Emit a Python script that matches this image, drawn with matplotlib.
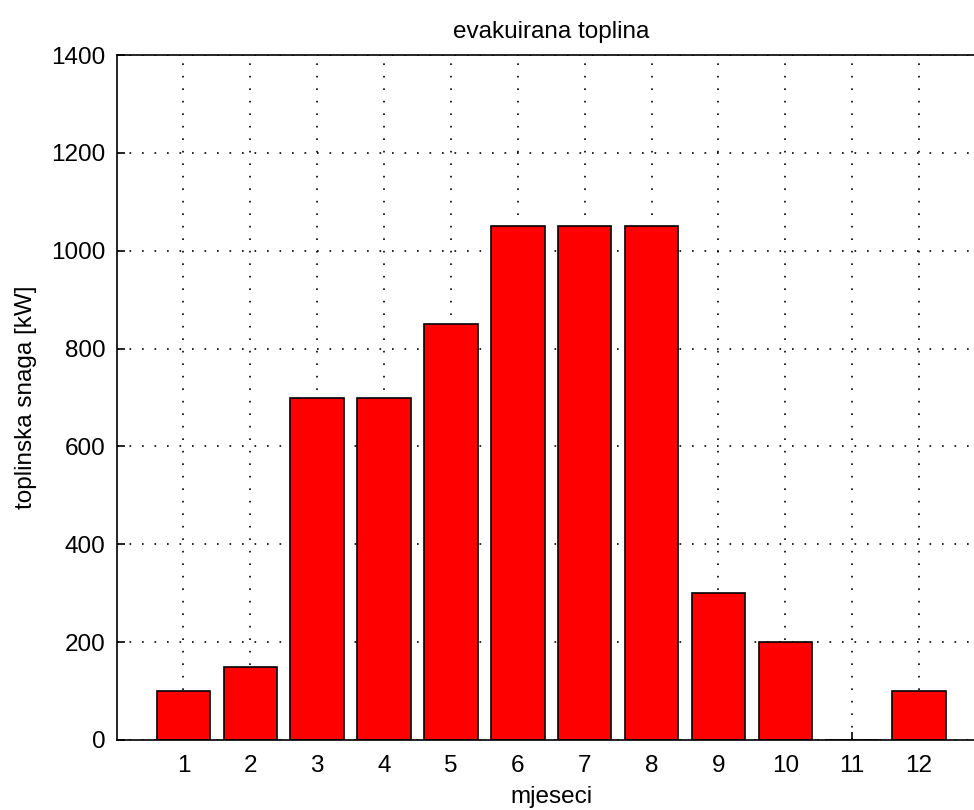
import matplotlib
matplotlib.use("Agg")
import matplotlib.pyplot as plt

months = [1, 2, 3, 4, 5, 6, 7, 8, 9, 10, 11, 12]
heat_kw = [100, 150, 700, 700, 850, 1050, 1050, 1050, 300, 200, 0, 100]
y_ticks = [0, 200, 400, 600, 800, 1000, 1200, 1400]

plt.rcParams['font.family'] = ['Liberation Sans', 'DejaVu Sans']
fs = 17.5

fig = plt.figure(figsize=(9.74, 8.1), dpi=100)
# the right edge of the axes falls just outside the picture, as in the reference
ax = fig.add_axes([116.5 / 974, 1 - 740 / 810, (986 - 116.5) / 974, (740 - 55) / 810])

ax.bar(months, heat_kw, width=0.8, color='#ff0000', edgecolor='black', linewidth=1.2, zorder=3)

ax.set_xlim(0, 13)
ax.set_ylim(0, 1400)
ax.set_xticks(months)
ax.set_yticks(y_ticks)
ax.grid(True, color='black', linestyle=(0, (1, 6.5)), linewidth=1.2, zorder=0)
ax.tick_params(direction='in', length=6, width=1.2, colors='black', labelsize=fs)
ax.tick_params(axis='x', pad=11)
ax.tick_params(axis='y', pad=8)
for s in ax.spines.values():
    s.set_linewidth(1.2)
    s.set_zorder(4)

ax.set_title("evakuirana toplina", fontsize=fs, pad=12)
ax.set_xlabel("mjeseci", fontsize=fs, labelpad=6)
ax.set_ylabel("toplinska snaga [kW]", fontsize=fs, labelpad=10)

fig.savefig("out.png", dpi=100)
plt.close(fig)
